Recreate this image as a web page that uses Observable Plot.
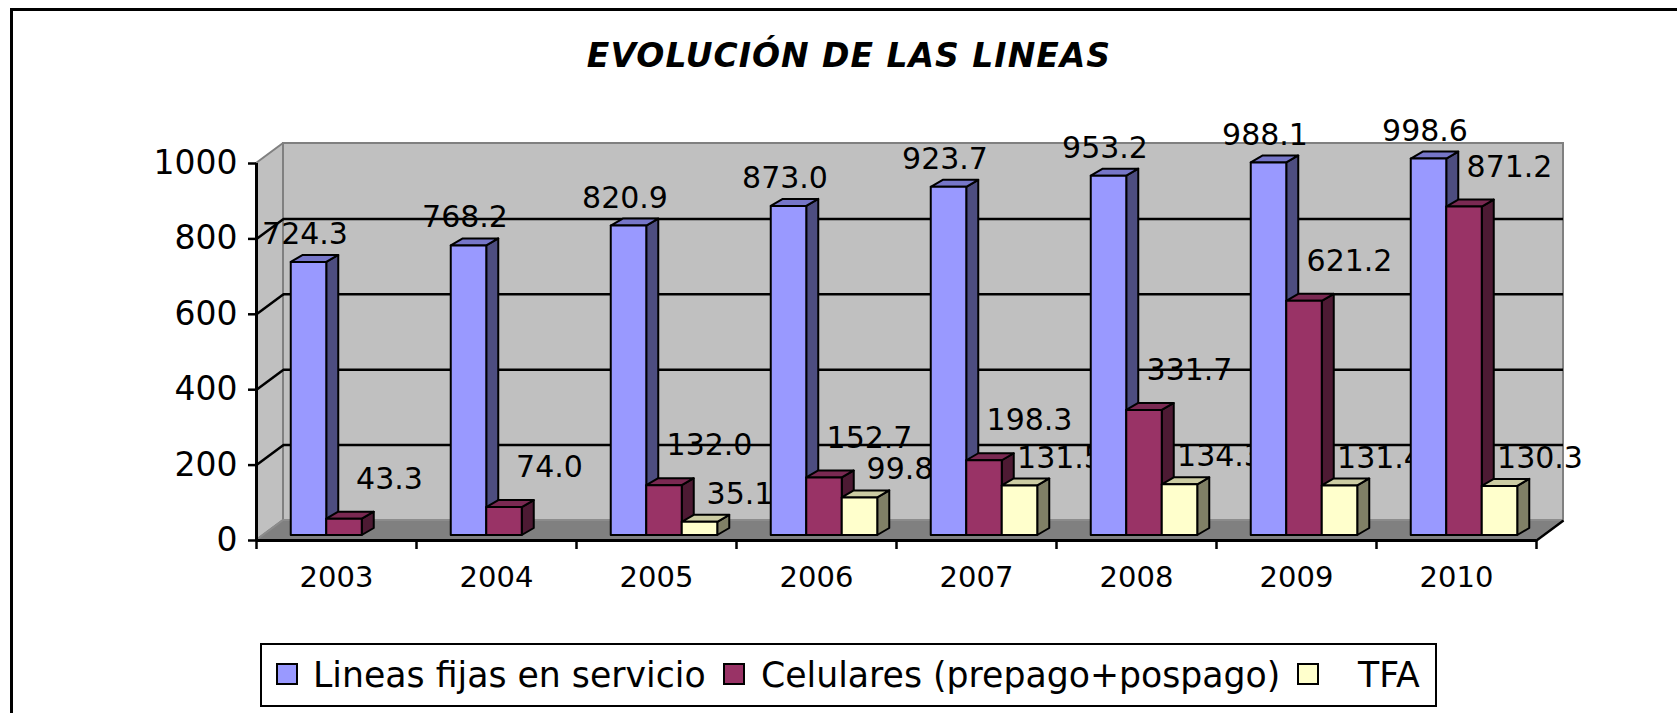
<!DOCTYPE html>
<html><head><meta charset="utf-8">
<script src="https://cdn.jsdelivr.net/npm/d3@7"></script>
<script src="https://cdn.jsdelivr.net/npm/@observablehq/plot@0.6"></script>
<style>
html,body{margin:0;padding:0;background:#fff;overflow:hidden;}
#page{position:relative;width:1677px;height:713px;overflow:hidden;font-family:"DejaVu Sans",sans-serif;background:#fff;}
#frame{position:absolute;left:10px;top:8px;width:1700px;height:720px;border-top:3px solid #000;border-left:3px solid #000;box-sizing:border-box;}
#title{position:absolute;left:0;top:39px;width:1698px;text-align:center;font-family:"DejaVu Sans";font-style:italic;font-weight:bold;font-size:33px;line-height:33px;letter-spacing:1px;color:#000;}
#chart{position:absolute;left:0;top:90px;}
#legend{position:absolute;left:260px;top:643px;width:1177px;height:64px;border:2px solid #000;box-sizing:border-box;background:#fff;}
.sw{position:absolute;top:18px;width:22px;height:22px;border:2px solid #000;box-sizing:border-box;}
.lt{position:absolute;top:12.6px;font-size:34.7px;line-height:34.7px;white-space:nowrap;color:#000;}
</style>
</head>
<body>
<div id="page">
<div id="frame"></div>
<div id="title">EVOLUCIÓN DE LAS LINEAS</div>
<div id="chart"></div>
<div id="legend"></div>
</div>
<script>
// ---- data ----
const years = ["2003", "2004", "2005", "2006", "2007", "2008", "2009", "2010"];
const fijas = [724.3, 768.2, 820.9, 873.0, 923.7, 953.2, 988.1, 998.6];
const celulares = [43.3, 74.0, 132.0, 152.7, 198.3, 331.7, 621.2, 871.2];
const tfa = [null, null, 35.1, 99.8, 131.5, 134.3, 131.4, 130.3];
const seriesNames = ["Lineas fijas en servicio", "Celulares (prepago+pospago)", "TFA"];
const yTicks = [0, 200, 400, 600, 800, 1000];

// ---- styles ----
const frontColors = ["#9999ff", "#993366", "#ffffcc"];
const sideColors = ["#4d4d80", "#4d1a33", "#808066"];
const topColors = ["#7676c8", "#7a2952", "#cccca3"];
const labelOffX = [-4, 45, 40];
const labelOffY = [-28, -40, -28];

const W = 1677, H = 530;
const mL = 256, mR = 141, mT = 73, mB = 80;
const pxX = (W - mL - mR) / years.length;      // pixels per category
const pxY = (H - mT - mB) / 1000;              // pixels per unit
const wallDX = 27 / pxX, wallDY = 20 / pxY;    // wall depth in data units
const barDX = 12 / pxX, barDY = 7 / pxY;       // bar depth in data units
const bw = 35.5 / pxX;                          // bar width in category units
const fmt = d3.format(".1f");

const values = [fijas, celulares, tfa];
const nCat = years.length;

const marks = [];
// back wall
marks.push(Plot.rect([{}], {x1: () => 0, x2: () => nCat, y1: () => 0, y2: () => 1000,
  dx: 27, dy: -20, fill: "#c0c0c0", stroke: "#808080", strokeWidth: 2}));
// left wall
marks.push(Plot.areaY([{x: 0, y1: 0, y2: 1000}, {x: wallDX, y1: wallDY, y2: 1000 + wallDY}],
  {x: "x", y1: "y1", y2: "y2", fill: "#c0c0c0", stroke: "#808080", strokeWidth: 2}));
// floor
marks.push(Plot.areaX([{y: 0, x1: 0, x2: nCat}, {y: wallDY, x1: wallDX, x2: nCat + wallDX}],
  {y: "y", x1: "x1", x2: "x2", fill: "#808080", stroke: "#8c8c8c", strokeWidth: 2}));
// gridlines on back wall
marks.push(Plot.ruleY(yTicks.filter(t => t > 0 && t < 1000), {x1: () => 0, x2: () => nCat, dx: 27, dy: -20, stroke: "#000", strokeWidth: 2.5}));
// diagonal gridlines on left wall
marks.push(Plot.link(yTicks.filter(t => t > 0 && t < 1000), {x1: () => 0, y1: d => d, x2: () => wallDX, y2: d => d + wallDY, stroke: "#000", strokeWidth: 2.5}));
// floor right edge
marks.push(Plot.link([{}], {x1: () => nCat, y1: () => 0, x2: () => nCat + wallDX, y2: () => wallDY, stroke: "#000", strokeWidth: 2.5}));
// front axis lines
marks.push(Plot.ruleX([0], {y1: () => 0, y2: () => 1000, stroke: "#000", strokeWidth: 3}));
marks.push(Plot.ruleY([0], {x1: () => 0, x2: () => nCat, stroke: "#000", strokeWidth: 3}));
// axes
marks.push(Plot.axisY({ticks: yTicks, tickSize: 8, tickPadding: 11, fontSize: 33, stroke: "#000", fill: "#000",
  strokeWidth: 2.5, tickFormat: d => String(d), label: null}));
marks.push(Plot.axisX({ticks: d3.range(0, nCat + 1), tickSize: 9, tickFormat: () => "", stroke: "#000", strokeWidth: 2.5, label: null}));
marks.push(Plot.axisX({ticks: years.map((_, i) => i + 0.5), tickSize: 0, tickPadding: 26, fontSize: 29, fill: "#000",
  tickFormat: d => years[Math.floor(d)], label: null}));

// bars, group by group (so later groups overlap earlier labels, as in the original)
years.forEach((yr, i) => {
  const bars = [];
  values.forEach((arr, k) => {
    const v = arr[i];
    if (v == null) return;
    const x1 = i + 0.5 + (k - 1.5) * bw;
    bars.push({k, v, x1, x2: x1 + bw, cx: x1 + bw / 2});
  });
  bars.forEach(b => {
    const common = {stroke: "#000", strokeWidth: 2, strokeLinejoin: "round", dx: 8, dy: -5};
    marks.push(Plot.areaY([{x: b.x2, y1: 0, y2: b.v}, {x: b.x2 + barDX, y1: barDY, y2: b.v + barDY}],
      {x: "x", y1: "y1", y2: "y2", fill: sideColors[b.k], ...common}));
    marks.push(Plot.areaX([{y: b.v, x1: b.x1, x2: b.x2}, {y: b.v + barDY, x1: b.x1 + barDX, x2: b.x2 + barDX}],
      {y: "y", x1: "x1", x2: "x2", fill: topColors[b.k], ...common}));
    marks.push(Plot.rect([b], {x1: "x1", x2: "x2", y1: () => 0, y2: "v", fill: frontColors[b.k], ...common}));
  });
  bars.forEach(b => {
    marks.push(Plot.text([b], {x: "cx", y: "v", text: d => fmt(d.v), fontSize: 30, fill: "#000",
      dx: 8 + labelOffX[b.k], dy: -5 + labelOffY[b.k]}));
  });
});

const chart = Plot.plot({
  width: W, height: H,
  marginLeft: mL, marginRight: mR, marginTop: mT, marginBottom: mB,
  x: {type: "linear", domain: [0, nCat], label: null},
  y: {type: "linear", domain: [0, 1000], label: null},
  style: {fontFamily: "DejaVu Sans", background: "transparent", overflow: "visible", color: "#000"},
  marks
});
document.getElementById("chart").appendChild(chart);

// legend
const legend = document.getElementById("legend");
const swLeft = [14, 461, 1035];
const txLeft = [51, 499, 1096];
seriesNames.forEach((name, k) => {
  const sw = document.createElement("div");
  sw.className = "sw";
  sw.style.left = swLeft[k] + "px";
  sw.style.background = frontColors[k];
  legend.appendChild(sw);
  const t = document.createElement("div");
  t.className = "lt";
  t.style.left = txLeft[k] + "px";
  t.textContent = name;
  legend.appendChild(t);
});
</script>
</body></html>
